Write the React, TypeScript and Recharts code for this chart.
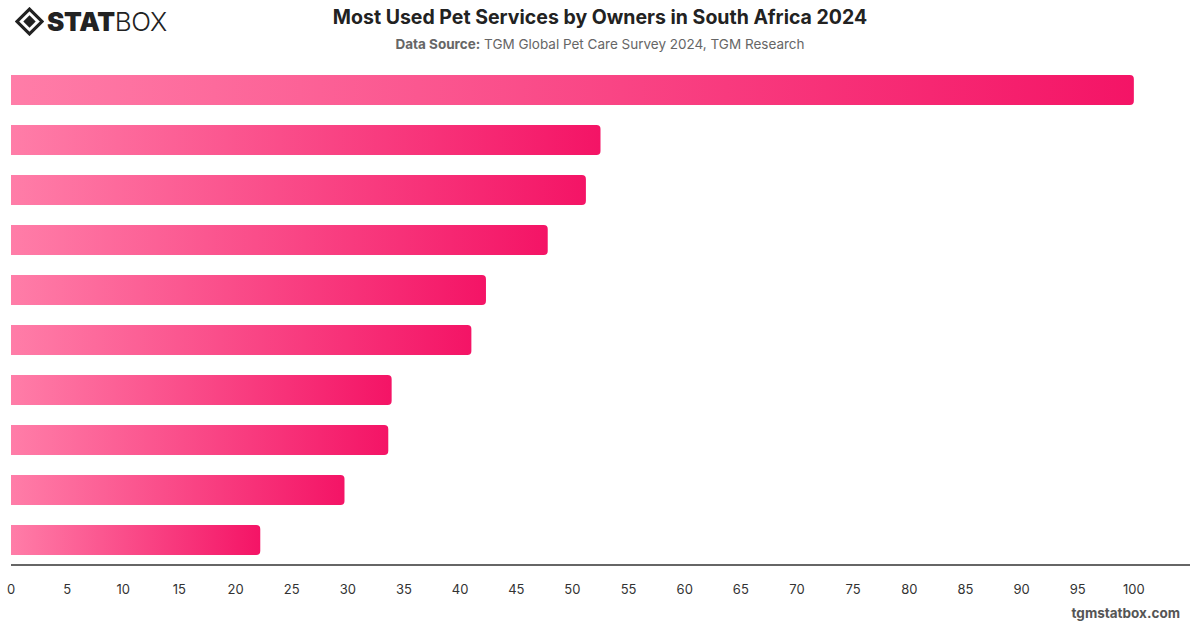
import { BarChart, Bar, XAxis, YAxis } from 'recharts';

const services = [
  'Service 1', 'Service 2', 'Service 3', 'Service 4', 'Service 5',
  'Service 6', 'Service 7', 'Service 8', 'Service 9', 'Service 10',
];
const shares = [100, 52.5, 51.2, 47.8, 42.3, 41, 33.9, 33.6, 29.7, 22.2];
const xTicks = [0, 5, 10, 15, 20, 25, 30, 35, 40, 45, 50, 55, 60, 65, 70, 75, 80, 85, 90, 95, 100];

const data = services.map((name, i) => ({ name, value: shares[i] }));

function Logo() {
  return (
    <div style={{ position: 'absolute', left: 15, top: 6, display: 'flex', alignItems: 'center' }}>
      <svg width="29" height="29" viewBox="0 0 28 28">
        <polygon points="14,2 26,14 14,26 2,14" fill="none" stroke="#222" strokeWidth="3" />
        <polygon points="14,8 20,14 14,20 8,14" fill="#222" />
      </svg>
      <span style={{ fontFamily: 'Inter, sans-serif', fontSize: 26, fontWeight: 900, color: '#222', marginLeft: 3, letterSpacing: -0.3 }}>
        STAT
      </span>
      <span style={{ fontFamily: 'Inter, sans-serif', fontSize: 26, fontWeight: 300, color: '#222', letterSpacing: -0.3 }}>
        BOX
      </span>
    </div>
  );
}

export default function App() {
  return (
    <div style={{ position: 'absolute', left: 0, top: 0, width: 1200, height: 628, background: '#fff', fontFamily: 'Inter, sans-serif' }}>
      <Logo />
      <div style={{ position: 'absolute', top: 5, width: 1200, textAlign: 'center', fontSize: 19.5, fontWeight: 700, color: '#222' }}>
        Most Used Pet Services by Owners in South Africa 2024
      </div>
      <div style={{ position: 'absolute', top: 36, width: 1200, textAlign: 'center', fontSize: 13.5, color: '#666' }}>
        <b>Data Source:</b> TGM Global Pet Care Survey 2024, TGM Research
      </div>
      <div style={{ position: 'absolute', left: 0, top: 0 }}>
        <BarChart
          width={1200}
          height={628}
          data={data}
          layout="vertical"
          margin={{ top: 65, right: 10, bottom: 33, left: 11 }}
          barCategoryGap="20%"
        >
          <defs>
            <linearGradient id="barGrad" x1="0" y1="0" x2="1" y2="0">
              <stop offset="0%" stopColor="#FF7DA8" />
              <stop offset="100%" stopColor="#F41466" />
            </linearGradient>
          </defs>
          <XAxis
            type="number"
            domain={[0, 105]}
            ticks={xTicks}
            tickLine={false}
            axisLine={{ stroke: '#333', strokeWidth: 1.5 }}
            tick={{ fill: '#333', fontSize: 13 }}
            tickMargin={14}
            interval={0}
          />
          <YAxis
            type="category"
            dataKey="name"
            width={0}
            tick={false}
            tickLine={false}
            axisLine={{ stroke: '#333', strokeWidth: 1.5 }}
          />
          <Bar dataKey="value" fill="url(#barGrad)" radius={[0, 4, 4, 0]} isAnimationActive={false} />
        </BarChart>
      </div>
      <div style={{ position: 'absolute', right: 20, top: 605, fontSize: 13.5, fontWeight: 700, color: '#555' }}>
        tgmstatbox.com
      </div>
    </div>
  );
}
